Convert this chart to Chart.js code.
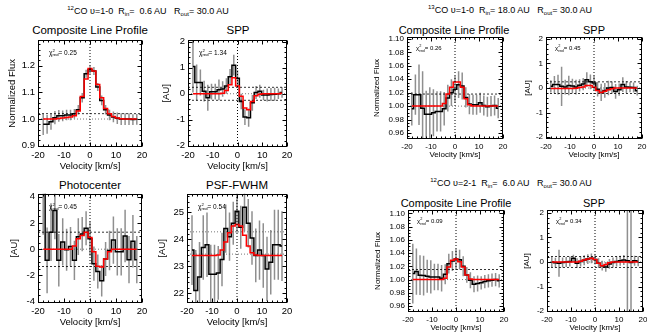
<!DOCTYPE html>
<html>
<head>
<meta charset="utf-8">
<script src="https://cdn.jsdelivr.net/npm/chart.js@4.4.0/dist/chart.umd.min.js"></script>
<style>
    body { margin: 0; width: 647px; height: 332px; overflow: hidden; background: #fff; position: relative;
           font-family: "Liberation Sans", Arial, sans-serif; color: #000; }
    canvas { position: absolute; }
    .t { position: absolute; transform: translate(-50%, -50%); white-space: nowrap; line-height: 1; }
    .main { font-size: 9px; }
    .main sup { font-size: 6px; vertical-align: 4px; line-height: 0; }
    .main sub { font-size: 6px; vertical-align: -2px; line-height: 0; }
    .pt { font-size: 11.5px; }
    .pt.r { font-size: 11px; }
</style>
</head>
<body>
<div class="t main" style="left:148px;top:11px"><sup>12</sup>CO υ=1-0&nbsp; R<sub>in</sub>=&nbsp; 0.6 AU&nbsp;&nbsp; R<sub>out</sub>= 30.0 AU</div>
<div class="t main" style="left:510px;top:10px"><sup>13</sup>CO υ=1-0&nbsp; R<sub>in</sub>= 18.0 AU&nbsp;&nbsp; R<sub>out</sub>= 30.0 AU</div>
<div class="t main" style="left:511px;top:183px"><sup>12</sup>CO υ=2-1&nbsp; R<sub>in</sub>=&nbsp; 6.0 AU&nbsp;&nbsp; R<sub>out</sub>= 30.0 AU</div>

<div class="t pt" style="left:90px;top:31px">Composite Line Profile</div>
<div class="t pt" style="left:238px;top:31px">SPP</div>
<div class="t pt" style="left:90px;top:186px">Photocenter</div>
<div class="t pt" style="left:237px;top:186px">PSF-FWHM</div>
<div class="t pt r" style="left:454px;top:30px">Composite Line Profile</div>
<div class="t pt r" style="left:594px;top:30px">SPP</div>
<div class="t pt r" style="left:456px;top:203px">Composite Line Profile</div>
<div class="t pt r" style="left:594px;top:203px">SPP</div>

<script>
const velocity = [-18, -16.5, -15, -13.5, -12, -10.5, -9, -7.5, -6, -4.5, -3, -1.5, 0, 1.5, 3, 4.5, 6, 7.5, 9, 10.5, 12, 13.5, 15, 16.5, 18];
const velocityTicks = [-20, -10, 0, 10, 20];

// 12CO v=1-0
const flux10 = [0.98, 0.98, 0.99, 1.005, 1.012, 1.012, 1.015, 1.015, 1.02, 1.035, 1.08, 1.17, 1.185, 1.18, 1.12, 1.07, 1.035, 1.015, 1.008, 1.003, 1.0, 1.0, 1.0, 0.998, 0.999];
const flux10Err = [0.04, 0.035, 0.03, 0.025, 0.022, 0.02, 0.02, 0.02, 0.018, 0.018, 0.018, 0.015, 0.015, 0.015, 0.015, 0.018, 0.018, 0.02, 0.02, 0.022, 0.022, 0.022, 0.022, 0.02, 0.02];
const flux10Model = [1.0, 1.0, 1.0, 1.0, 1.002, 1.004, 1.006, 1.008, 1.012, 1.03, 1.085, 1.15, 1.19, 1.18, 1.13, 1.08, 1.04, 1.02, 1.01, 1.004, 1.001, 1.0, 1.0, 1.0, 1.0];

const spp10 = [1.05, 0.43, 0.43, 0.1, -0.15, 0.08, 0.08, 0.15, 0.18, 0.3, 0.65, 1.1, 0.6, -0.3, -0.9, -0.92, -0.35, 0.05, 0.1, -0.05, -0.05, -0.03, -0.02, 0.0, 0.05];
const spp10Err = [1.0, 0.7, 0.5, 0.4, 0.5, 0.3, 0.3, 0.4, 0.3, 0.3, 0.3, 0.4, 0.3, 0.3, 0.3, 0.35, 0.3, 0.25, 0.25, 0.2, 0.25, 0.25, 0.25, 0.2, 0.2];
const spp10Model = [0, 0, 0, 0, 0, 0, 0, 0, 0.02, 0.12, 0.35, 0.62, 0.3, -0.1, -0.55, -0.62, -0.3, -0.08, -0.02, 0, 0, 0, 0, 0, 0.02];

const photo10 = [4.6, -0.85, 1.3, 2.95, -0.85, 0.55, -0.05, 0.2, -0.85, 0.95, 1.15, 1.6, 0.8, -1.1, -1.7, -2.4, -0.75, -0.1, 0.7, -0.2, -0.2, 1.0, -0.8, 0.6, -0.8];
const photo10Err = [3.5, 2.5, 2.2, 2.2, 2.0, 1.8, 1.6, 1.5, 1.5, 1.4, 1.3, 1.3, 1.3, 1.3, 1.3, 1.2, 1.3, 1.5, 1.8, 1.8, 1.8, 2.0, 1.8, 2.0, 1.8];
const photo10Model = [0, 0, 0, 0, 0, 0, 0, 0, 0.25, 0.8, 1.05, 1.3, 0.9, -0.2, -1.3, -1.35, -0.75, -0.2, 0, 0, 0, 0, 0, 0, 0];

const fwhm10 = [23.6, 22.1, 22.6, 23.7, 23.8, 22.7, 22.7, 22.75, 23.25, 24.4, 24.1, 24.6, 25.05, 24.45, 25.2, 24.6, 24.05, 23.4, 23.6, 23.4, 22.9, 23.15, 23.8, 23.8, 23.75];
const fwhm10Err = [1.3, 1.5, 1.3, 1.2, 1.2, 1.1, 1.1, 1.0, 1.0, 0.9, 0.9, 0.8, 0.8, 0.8, 0.9, 0.9, 1.0, 1.0, 1.1, 1.2, 1.2, 1.2, 1.3, 1.3, 1.3];
const fwhm10Model = [23.4, 23.4, 23.4, 23.4, 23.4, 23.4, 23.4, 23.42, 23.6, 23.9, 24.25, 24.5, 24.55, 24.5, 24.15, 23.75, 23.5, 23.42, 23.4, 23.4, 23.4, 23.4, 23.4, 23.4, 23.4];

// 13CO v=1-0
const flux13 = [0.996, 1.017, 1.017, 0.997, 0.988, 0.988, 0.99, 0.992, 0.992, 0.996, 1.012, 1.02, 1.025, 1.032, 1.03, 1.013, 1.003, 1.002, 1.002, 1.005, 1.001, 0.999, 1.0, 1.001, 0.997];
const flux13Err = [0.025, 0.03, 0.045, 0.055, 0.035, 0.04, 0.035, 0.03, 0.03, 0.025, 0.02, 0.02, 0.02, 0.02, 0.02, 0.015, 0.015, 0.015, 0.015, 0.015, 0.015, 0.015, 0.015, 0.015, 0.015];
const flux13Model = [1.0, 1.0, 1.0, 1.0, 1.0, 1.0, 1.0, 1.0, 1.0, 1.004, 1.018, 1.028, 1.036, 1.036, 1.028, 1.011, 1.002, 1.0, 1.0, 1.0, 1.0, 1.0, 1.0, 1.0, 1.0];

const spp13 = [0.07, 0.14, 0.14, 0.07, 0.04, 0.1, 0.08, 0.04, 0.11, 0.16, 0.34, 0.25, 0.2, -0.05, -0.18, -0.1, 0.0, 0.02, -0.14, -0.07, 0.14, 0.04, 0.03, 0.02, -0.11];
const spp13Err = [0.25, 0.35, 0.4, 0.8, 0.3, 0.4, 0.3, 0.3, 0.25, 0.25, 0.3, 0.3, 0.3, 0.3, 0.35, 0.3, 0.3, 0.25, 0.3, 0.25, 0.3, 0.25, 0.2, 0.2, 0.2];
const spp13Model = [-0.02, -0.02, -0.02, -0.02, -0.02, -0.02, -0.02, -0.01, 0.02, 0.04, 0.1, 0.1, 0.03, -0.1, -0.18, -0.13, -0.07, -0.03, 0, 0, 0, 0, 0, 0, 0];

// 12CO v=2-1
const flux21 = [1.009, 1.012, 1.0065, 1.006, 1.005, 1.004, 1.004, 1.004, 1.002, 1.008, 1.024, 1.028, 1.031, 1.03, 1.02, 1.007, 0.999, 0.993, 0.994, 0.995, 0.997, 0.998, 0.999, 1.0, 0.998];
const flux21Err = [0.045, 0.035, 0.03, 0.03, 0.025, 0.025, 0.02, 0.02, 0.02, 0.015, 0.015, 0.015, 0.015, 0.015, 0.015, 0.012, 0.012, 0.012, 0.012, 0.01, 0.01, 0.01, 0.01, 0.01, 0.01];
const flux21Model = [1.0, 1.0, 1.0, 1.0, 1.0, 1.0, 1.0, 1.0, 1.0, 1.002, 1.019, 1.029, 1.031, 1.027, 1.019, 1.007, 1.001, 1.0, 1.0, 1.0, 1.0, 1.0, 1.0, 1.0, 1.0];

const spp21 = [0.0, -0.03, -0.05, -0.02, 0.0, 0.02, 0.15, -0.05, 0.02, 0.07, 0.12, 0.15, 0.1, -0.05, -0.15, -0.2, -0.08, -0.02, 0.02, 0.05, 0.08, 0.05, -0.02, 0.05, 0.03];
const spp21Err = [0.2, 0.2, 0.55, 0.2, 0.2, 0.2, 0.15, 0.2, 0.2, 0.2, 0.2, 0.2, 0.2, 0.2, 0.2, 0.2, 0.2, 0.2, 0.2, 0.2, 0.2, 3.0, 3.0, 0.2, 0.2];
const spp21Model = [0, 0, 0, 0, 0, 0, 0, 0, 0.03, 0.08, 0.12, 0.15, 0.1, -0.05, -0.15, -0.1, -0.03, 0, 0, 0, 0, 0, 0, 0, 0];

const chiValues = ["0.25", "1.34", "0.45", "0.54", "0.26", "0.45", "0.09", "0.34"];

const fluxTicks10 = [0.9, 1.0, 1.1, 1.2];
const fluxTicksFaint = [0.96, 0.98, 1.00, 1.02, 1.04, 1.06, 1.08, 1.10];
const sppTicks = [-2, -1, 0, 1, 2];
const photoTicks = [-4, -2, 0, 2, 4];
const fwhmTicks = [22, 23, 24, 25];

const FONT = '"Liberation Sans", Arial, sans-serif';

const framePlugin = {
    id: 'frame',
    afterDraw(chart, args, opts) {
        const { ctx, chartArea: a, scales: { x, y } } = chart;
        ctx.save();
        ctx.strokeStyle = '#000';
        ctx.lineWidth = 1;
        const L = Math.round(a.left) + 0.5, T = Math.round(a.top) + 0.5;
        const R = Math.round(a.right) - 0.5, B = Math.round(a.bottom) - 0.5;
        ctx.strokeRect(L, T, R - L, B - T);

        ctx.beginPath();
        const marks = (min, max, step, major, fn) => {
            for (let n = Math.ceil(min / step - 1e-6); n <= Math.floor(max / step + 1e-6); n++) {
                const v = n * step;
                const isMajor = Math.abs(v / major - Math.round(v / major)) < 1e-3;
                fn(v, isMajor ? 4 : 2);
            }
        };
        marks(x.min, x.max, opts.minorX, 10, (v, len) => {
            const p = Math.round(x.getPixelForValue(v)) + 0.5;
            ctx.moveTo(p, B); ctx.lineTo(p, B - len);
            ctx.moveTo(p, T); ctx.lineTo(p, T + len);
        });
        marks(y.min, y.max, opts.minorY, opts.majorY, (v, len) => {
            const p = Math.round(y.getPixelForValue(v)) + 0.5;
            ctx.moveTo(L, p); ctx.lineTo(L + len, p);
            ctx.moveTo(R, p); ctx.lineTo(R - len, p);
        });
        ctx.stroke();

        const s = opts.chiSize;
        let tx = a.left + opts.chiX;
        const ty = a.top + opts.chiY;
        ctx.fillStyle = '#000';
        ctx.font = `${s}px ${FONT}`;
        ctx.fillText('\u03c7', tx, ty);
        tx += ctx.measureText('\u03c7').width;
        ctx.font = `${s * 0.65}px ${FONT}`;
        ctx.fillText('2', tx, ty - s * 0.45);
        ctx.fillText('red', tx, ty + s * 0.25);
        tx += ctx.measureText('red').width;
        ctx.font = `${s}px ${FONT}`;
        ctx.fillText('= ' + opts.chi, tx, ty);
        ctx.restore();
    }
};

function errorBars(values, errors) {
    const pts = [];
    values.forEach((v, i) => {
        pts.push({ x: velocity[i], y: v - errors[i] });
        pts.push({ x: velocity[i], y: v + errors[i] });
        pts.push({ x: velocity[i], y: null });
    });
    return pts;
}

function toPoints(values) {
    return values.map((v, i) => ({ x: velocity[i], y: v }));
}

function levelLine(level, dash, color) {
    return {
        data: [{ x: -20, y: level }, { x: 20, y: level }],
        borderColor: color, borderWidth: 0.8, borderDash: dash,
        pointRadius: 0, order: 4
    };
}

function makePanel(p) {
    const padTop = 8, padRight = 12;
    const canvas = document.createElement('canvas');
    const w = p.yW + p.box.w + padRight;
    const h = padTop + p.box.h + p.xH;
    canvas.width = w;
    canvas.height = h;
    canvas.style.left = (p.box.l - p.yW) + 'px';
    canvas.style.top = (p.box.t - padTop) + 'px';
    canvas.style.width = w + 'px';
    canvas.style.height = h + 'px';
    document.body.appendChild(canvas);

    const datasets = [
        {
            data: errorBars(p.values, p.errors),
            borderColor: '#8f8f8f', borderWidth: 1.5, pointRadius: 0, spanGaps: false, order: 5
        },
        ...p.dashed.map(l => levelLine(l, [2, 2], '#000')),
        ...p.dotted.map(l => levelLine(l, [1, 2], '#555')),
        {
            data: toPoints(p.values), stepped: 'middle',
            borderColor: '#000', borderWidth: 1.5, pointRadius: 0, order: 3
        },
        {
            data: toPoints(p.model), stepped: 'middle',
            borderColor: '#ff0000', borderWidth: 1.5, pointRadius: 0, order: 2
        },
        {
            data: [{ x: 0, y: p.yMin }, { x: 0, y: p.yMax }],
            borderColor: '#000', borderWidth: 1, borderDash: [1, 2], pointRadius: 0, order: 1
        }
    ];

    const tickFont = { family: FONT, size: p.font };

    new Chart(canvas.getContext('2d'), {
        type: 'line',
        data: { datasets: datasets },
        options: {
            responsive: false,
            animation: false,
            layout: { padding: { left: 0, top: padTop, right: padRight, bottom: 0 } },
            plugins: {
                legend: { display: false },
                tooltip: { enabled: false },
                frame: { chi: p.chi, minorX: 2, minorY: p.minorY, majorY: p.majorY,
                         chiSize: p.chiSize, chiX: p.chiX, chiY: p.chiY }
            },
            scales: {
                x: {
                    type: 'linear', min: -20, max: 20,
                    grid: { display: false, drawTicks: false },
                    border: { display: false },
                    afterBuildTicks: axis => { axis.ticks = velocityTicks.map(v => ({ value: v })); },
                    afterFit: axis => { axis.height = p.xH; },
                    ticks: { color: '#000', font: tickFont, padding: 3, maxRotation: 0,
                             callback: v => String(v) },
                    title: { display: true, text: 'Velocity [km/s]', color: '#000', font: tickFont,
                             padding: 0 }
                },
                y: {
                    type: 'linear', min: p.yMin, max: p.yMax,
                    grid: { display: false, drawTicks: false },
                    border: { display: false },
                    afterBuildTicks: axis => { axis.ticks = p.ticks.map(v => ({ value: v })); },
                    afterFit: axis => { axis.width = p.yW; },
                    ticks: { color: '#000', font: tickFont, padding: 3,
                             callback: v => Number(v).toFixed(p.dec) },
                    title: { display: true, text: p.yTitle, color: '#000', font: tickFont,
                             padding: 0 }
                }
            }
        },
        plugins: [framePlugin]
    });
}

const left = { font: 9.5, xH: 25, chiSize: 6.5, chiX: 11, chiY: 15 };
const right = { font: 8, xH: 21, chiSize: 6, chiX: 9, chiY: 13 };

makePanel({ ...left, box: { l: 38, t: 39, w: 104, h: 108 }, yW: 31, yMin: 0.895, yMax: 1.298,
    ticks: fluxTicks10, dec: 1, majorY: 0.1, minorY: 0.02, yTitle: 'Normalized Flux',
    values: flux10, errors: flux10Err, model: flux10Model, dashed: [1.02], dotted: [1.0], chi: chiValues[0] });
makePanel({ ...left, box: { l: 188, t: 39, w: 99, h: 108 }, yW: 27, yMin: -2.05, yMax: 2.08,
    ticks: sppTicks, dec: 0, majorY: 1, minorY: 0.2, yTitle: '[AU]',
    values: spp10, errors: spp10Err, model: spp10Model, dashed: [0.25, -0.25], dotted: [0], chi: chiValues[1] });
makePanel({ ...left, box: { l: 38, t: 193, w: 104, h: 110 }, yW: 29, yMin: -4.1, yMax: 4.23,
    ticks: photoTicks, dec: 0, majorY: 2, minorY: 0.5, yTitle: '[AU]',
    values: photo10, errors: photo10Err, model: photo10Model, dashed: [1.3, -1.32], dotted: [0], chi: chiValues[2] });
makePanel({ ...left, box: { l: 187, t: 193, w: 100, h: 110 }, yW: 30, yMin: 21.63, yMax: 25.7,
    ticks: fwhmTicks, dec: 0, majorY: 1, minorY: 0.2, yTitle: '[AU]',
    values: fwhm10, errors: fwhm10Err, model: fwhm10Model, dashed: [], dotted: [24.28, 23.45], chi: chiValues[3] });

makePanel({ ...right, box: { l: 407, t: 37, w: 96, h: 102 }, yW: 35, yMin: 0.951, yMax: 1.103,
    ticks: fluxTicksFaint, dec: 2, majorY: 0.02, minorY: 0.005, yTitle: 'Normalized Flux',
    values: flux13, errors: flux13Err, model: flux13Model, dashed: [1.018], dotted: [1.0], chi: chiValues[4] });
makePanel({ ...right, box: { l: 546, t: 37, w: 96, h: 102 }, yW: 23, yMin: -2.08, yMax: 2.08,
    ticks: sppTicks, dec: 0, majorY: 1, minorY: 0.2, yTitle: '[AU]',
    values: spp13, errors: spp13Err, model: spp13Model, dashed: [0.25, -0.22], dotted: [0], chi: chiValues[5] });
makePanel({ ...right, box: { l: 408, t: 210, w: 96, h: 102 }, yW: 35, yMin: 0.951, yMax: 1.105,
    ticks: fluxTicksFaint, dec: 2, majorY: 0.02, minorY: 0.005, yTitle: 'Normalized Flux',
    values: flux21, errors: flux21Err, model: flux21Model, dashed: [1.015], dotted: [1.0], chi: chiValues[6] });
makePanel({ ...right, box: { l: 547, t: 210, w: 96, h: 102 }, yW: 25, yMin: -2.04, yMax: 2.12,
    ticks: sppTicks, dec: 0, majorY: 1, minorY: 0.2, yTitle: '[AU]',
    values: spp21, errors: spp21Err, model: spp21Model, dashed: [0.22, -0.22], dotted: [0], chi: chiValues[7] });
</script>
</body>
</html>
